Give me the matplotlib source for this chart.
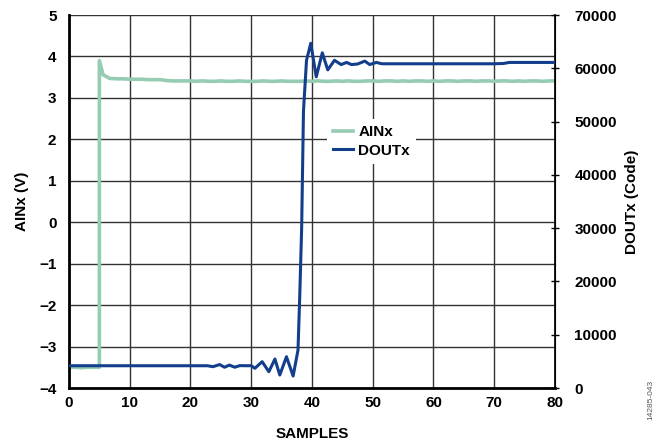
import matplotlib.pyplot as plt

plt.rcParams['font.family'] = ['Liberation Sans', 'DejaVu Sans']
plt.rcParams['font.weight'] = 'bold'

# AINx (V) - 采样点与电压
ain_x = [0, 1, 2, 3, 4, 5.0, 5.0, 5.6, 6.7, 8, 9, 10, 11, 12, 13, 14, 15, 16, 17,
         18, 19, 20, 21, 22, 23, 24, 25, 26, 27, 28, 29, 30, 31, 32, 33, 34, 35,
         36, 37, 38, 39, 40, 41, 42, 43, 44, 45, 46, 47, 48, 49, 50, 51, 52, 53,
         54, 55, 56, 57, 58, 59, 60, 61, 62, 63, 64, 65, 66, 67, 68, 69, 70, 71,
         72, 73, 74, 75, 76, 77, 78, 79, 80]
ain_v = [-3.50, -3.50, -3.51, -3.50, -3.50, -3.50, 3.90, 3.56, 3.47, 3.46,
         3.46, 3.45, 3.45, 3.45, 3.44, 3.44, 3.44, 3.42, 3.41, 3.41, 3.41, 3.41,
         3.40, 3.41, 3.40, 3.40, 3.41, 3.40, 3.40, 3.41, 3.40, 3.40, 3.40, 3.41,
         3.40, 3.40, 3.41, 3.40, 3.40, 3.40, 3.41, 3.40, 3.41, 3.40, 3.40, 3.41,
         3.40, 3.41, 3.40, 3.40, 3.41, 3.41, 3.40, 3.41, 3.41, 3.40, 3.41, 3.40,
         3.41, 3.41, 3.40, 3.41, 3.40, 3.41, 3.41, 3.40, 3.41, 3.41, 3.40, 3.41,
         3.41, 3.40, 3.41, 3.41, 3.40, 3.41, 3.40, 3.41, 3.41, 3.40, 3.41, 3.41]

# DOUTx (Code)
dout_x = [0, 5, 10, 15, 20, 22.8, 23.7, 24.8, 25.6, 26.4, 27.3, 28.1, 29.5, 30.0,
          30.6, 31.8, 32.9, 33.9, 34.7, 35.8, 36.9, 37.7, 38.0, 38.3, 38.6, 39.1,
          39.8, 40.7, 41.7, 42.6, 43.7, 44.8, 45.7, 46.5, 47.5, 48.7, 49.5, 50.6,
          51.5, 55, 60, 65, 70, 71.5, 72.5, 75, 80]
dout_code = [4180, 4180, 4180, 4180, 4180, 4180, 4000, 4400, 3900, 4300, 3900,
             4200, 4180, 4200, 3700, 4940, 3060, 5440, 2440, 5870, 2250, 7130,
             17800, 30000, 52000, 61500, 64700, 58400, 62900, 59700, 61500, 60700,
             61100, 60700, 60800, 61350, 60700, 61100, 60850, 60850, 60850, 60850,
             60850, 60900, 61100, 61100, 61100]

x_ticks = [0, 10, 20, 30, 40, 50, 60, 70, 80]
left_ticks = [-4, -3, -2, -1, 0, 1, 2, 3, 4, 5]
right_ticks = [0, 10000, 20000, 30000, 40000, 50000, 60000, 70000]

green = '#96CCB1'
blue = '#133E8C'

fig = plt.figure(figsize=(6.57, 4.44), dpi=100)
ax = fig.add_axes([0.105, 0.1261, 0.7397, 0.8401])
ax2 = ax.twinx()

l1, = ax.plot(ain_x, ain_v, color=green, linewidth=2.6, label='AINx', zorder=2)
l2, = ax2.plot(dout_x, dout_code, color=blue, linewidth=2.2, label='DOUTx', zorder=3)

ax.set_xlim(0, 80)
ax.set_ylim(-4, 5)
ax2.set_ylim(0, 70000)
ax.set_xticks(x_ticks)
ax.set_yticks(left_ticks)
ax.set_yticklabels([str(v).replace('-', '\u2212') for v in left_ticks])
ax2.set_yticks(right_ticks)
ax2.set_yticklabels([str(v) for v in right_ticks])
ax.grid(True, color='#333333', linewidth=1.0)
ax.set_axisbelow(True)

ax.tick_params(axis='both', length=0, labelsize=11)
ax.tick_params(axis='y', pad=9)
ax.tick_params(axis='x', pad=6)
ax2.tick_params(axis='y', direction='inout', length=6, width=1, labelsize=11, pad=11)

for a in (ax, ax2):
    a.spines['top'].set_visible(False)
ax.spines['left'].set_linewidth(2)
ax.spines['bottom'].set_linewidth(2)
ax2.spines['left'].set_visible(False)
ax2.spines['bottom'].set_visible(False)
ax2.spines['right'].set_linewidth(1.2)

ax.set_xlabel('SAMPLES', fontsize=11, fontweight='bold', labelpad=12)
ax.set_ylabel('AINx (V)', fontsize=11, fontweight='bold', labelpad=7)
ax2.set_ylabel('DOUTx (Code)', fontsize=11, fontweight='bold', labelpad=6)

ax.set_zorder(ax2.get_zorder() - 1)
ax.patch.set_visible(False)
ax2.patch.set_visible(False)

leg = ax2.legend([l1, l2], ['AINx', 'DOUTx'], loc='upper left',
                 bbox_to_anchor=(0.531, 0.721), frameon=True, fancybox=False,
                 handlelength=1.3, handletextpad=0.35, borderpad=0.4,
                 borderaxespad=0, labelspacing=0.3,
                 prop={'weight': 'bold', 'size': 11})
leg.get_frame().set_edgecolor('none')
leg.get_frame().set_facecolor('white')
leg.get_frame().set_alpha(1)

fig.text(0.99, 0.1, '14285-043', rotation=90, fontsize=6, color='#555555',
         fontweight='normal', ha='center', va='center')

fig.savefig('out.png', dpi=100)
